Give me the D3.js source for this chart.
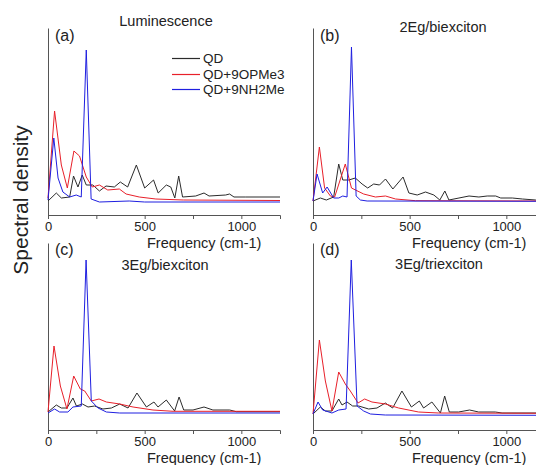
<!DOCTYPE html>
<html>
<head>
<meta charset="utf-8">
<script src="https://cdn.jsdelivr.net/npm/d3@7"></script>
<style>
  body { margin: 0; background: #fff; }
  svg { display: block; font-family: Arial, "Liberation Sans", sans-serif; }
</style>
</head>
<body>
<div id="chart"></div>
<script>
// series names + colours (legend order)
const seriesNames = ["QD", "QD+9OPMe3", "QD+9NH2Me"];
const seriesColors = ["#2b2b2b", "#e8202a", "#1f1fe0"];

const panelTags = ["(a)", "(b)", "(c)", "(d)"];
const panelTitles = ["Luminescence", "2Eg/biexciton", "3Eg/biexciton", "3Eg/triexciton"];
const xTicks = [0, 250, 500, 750, 1000];

// [frequency cm-1, spectral density (arb.)]
const lumQD = [[0,14],[43,22],[69,17],[112,18],[132,39],[155,28],[177,40],[198,30],[232,30],[266,24],[300,29],[343,28],[374,33],[412,28],[457,50],[500,27],[546,35],[570,22],[612,30],[635,28],[656,17],[676,39],[696,18],[764,19],[807,22],[833,19],[919,20],[939,21],[962,18],[1020,18],[1200,18]];
const lumOPMe3 = [[0,17],[34,104],[69,50],[100,27],[134,64],[163,59],[198,38],[229,28],[266,30],[309,25],[369,26],[404,21],[472,18],[558,16],[700,15],[1200,14.5]];
const lumNH2Me = [[0,15],[30,77],[52,37],[77,23],[112,18],[146,20],[172,18],[198,165],[223,16],[266,13],[420,14],[500,13],[1200,13]];

const bxQD = [[0,14],[38,17],[69,15],[107,18],[133,51],[154,35],[185,35],[219,37],[254,31],[283,27],[314,31],[344,30],[375,36],[413,26],[466,38],[496,22],[539,20],[582,23],[625,20],[656,15],[682,24],[703,15],[755,17],[807,19],[858,18],[901,19],[945,19],[971,17],[1031,17],[1083,16],[1152,15],[1200,15]];
const bxOPMe3 = [[0,14],[33,68],[60,27],[90,19],[112,18],[167,51],[199,27],[262,21],[323,18],[375,19],[427,16],[530,14.3],[1200,14]];
const bxNH2Me = [[0,14],[21,41],[50,22],[73,28],[107,17],[133,17],[154,19],[176,18],[199,168],[223,19],[245,15],[280,14],[1200,13.7]];

const bx3QD = [[0,18],[43,25],[69,22],[98,22],[129,32],[147,24],[178,26],[207,23],[241,24],[284,21],[328,22],[371,26],[414,22],[460,37],[509,23],[548,28],[569,23],[612,30],[655,19],[678,33],[702,20],[750,20],[807,23],[853,20],[940,20],[974,18.3],[1200,18.3]];
const bx3OPMe3 = [[0,18],[31,84],[64,44],[98,21],[133,54],[167,41],[190,39],[224,29],[264,31],[302,28],[371,26],[440,23],[543,20],[647,18.7],[1200,18.7]];
const bx3NH2Me = [[0,17],[34,21],[60,18],[103,18],[129,23],[172,24],[197,170],[224,29],[259,22],[302,18],[371,17],[1200,17]];

const txQD = [[0,16],[38,23],[64,19],[98,19],[133,31],[150,25],[176,28],[205,24],[236,24],[288,21],[331,22],[374,27],[412,22],[460,39],[509,23],[550,29],[572,22],[615,28],[659,17],[681,34],[705,18],[753,18],[810,20],[857,18],[943,18],[978,17],[1200,17]];
const txOPMe3 = [[0,16],[33,90],[64,49],[98,19],[133,58],[167,46],[193,39],[233,27],[267,31],[305,28],[374,26],[443,22],[546,18],[650,17],[1200,16.7]];
const txNH2Me = [[0,16],[26,28],[50,20],[98,17],[133,20],[171,21],[198,170],[228,24],[262,19],[297,16],[374,15],[1200,14.7]];

const panelData = [
  [lumQD, lumOPMe3, lumNH2Me],
  [bxQD, bxOPMe3, bxNH2Me],
  [bx3QD, bx3OPMe3, bx3NH2Me],
  [txQD, txOPMe3, txNH2Me]
];

const W = 536, H = 465;
const panelW = 232, panelH = 187;
const lefts = [48, 313];
const tops = [28, 243];

const svg = d3.select("#chart").append("svg")
  .attr("width", W)
  .attr("height", H);

const x = d3.scaleLinear().domain([0, 1200]).range([0, panelW]);
const y = d3.scaleLinear().domain([0, 187]).range([panelH, 0]);

const line = d3.line()
  .x(d => x(d[0]))
  .y(d => y(d[1]));

panelData.forEach((series, i) => {
  const g = svg.append("g")
    .attr("transform", `translate(${lefts[i % 2]},${tops[Math.floor(i / 2)]})`);

  // x axis: majors labelled, 250/750 unlabelled
  const xAxis = g.append("g")
    .attr("transform", `translate(0,${panelH})`)
    .call(d3.axisBottom(x)
      .tickValues(xTicks)
      .tickSizeOuter(0)
      .tickSize(4)
      .tickPadding(3)
      .tickFormat(d => d % 500 === 0 ? d : ""));
  xAxis.select(".domain").attr("stroke", "#555");
  xAxis.selectAll(".tick line").attr("stroke", "#555");
  xAxis.selectAll(".tick text")
    .attr("fill", "#222")
    .style("font-size", "13px");

  const yAxis = g.append("g")
    .call(d3.axisLeft(y).tickValues([]).tickSizeOuter(0));
  yAxis.select(".domain").attr("stroke", "#555");

  // black first, then red, then blue on top
  series.forEach((pts, k) => {
    g.append("path")
      .datum(pts)
      .attr("fill", "none")
      .attr("stroke", seriesColors[k])
      .attr("stroke-width", 1)
      .attr("stroke-linejoin", "round")
      .attr("d", line);
  });

  g.append("text")
    .attr("x", 99)
    .attr("y", panelH + (i < 2 ? 33 : 32.5))
    .attr("fill", "#222")
    .style("font-size", "14.5px")
    .text("Frequency (cm-1)");

  g.append("text")
    .attr("x", 7)
    .attr("y", i < 2 ? 13 : 12)
    .attr("fill", "#222")
    .style("font-size", "16px")
    .text(panelTags[i]);
});

// titles sit at slightly different spots in the source figure
const titlePos = [[166, 26], [443, 32], [165, 270], [439, 269]];
panelTitles.forEach((t, i) => {
  svg.append("text")
    .attr("x", titlePos[i][0])
    .attr("y", titlePos[i][1])
    .attr("text-anchor", "middle")
    .attr("fill", "#222")
    .style("font-size", "14.5px")
    .text(t);
});

// legend in panel (a)
const legend = svg.append("g").attr("transform", "translate(172,58)");
seriesNames.forEach((name, k) => {
  const row = legend.append("g").attr("transform", `translate(0,${Math.round(k * 15.5)})`);
  row.append("line")
    .attr("x1", 0).attr("x2", 28)
    .attr("y1", 0.5).attr("y2", 0.5)
    .attr("stroke", seriesColors[k])
    .attr("stroke-width", 1.2);
  row.append("text")
    .attr("x", 31)
    .attr("dy", "0.38em")
    .attr("fill", "#222")
    .style("font-size", "13.5px")
    .text(name);
});

svg.append("text")
  .attr("transform", "translate(28,200) rotate(-90)")
  .attr("text-anchor", "middle")
  .attr("fill", "#222")
  .style("font-size", "21px")
  .text("Spectral density");
</script>
</body>
</html>
